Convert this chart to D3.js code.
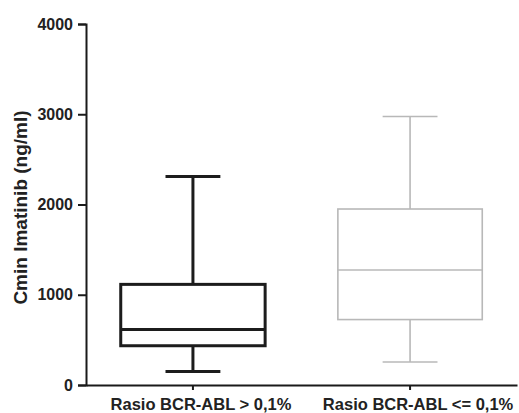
<!DOCTYPE html>
<html>
<head>
<meta charset="utf-8">
<script src="https://cdn.jsdelivr.net/npm/d3@7"></script>
<style>
  body { margin: 0; background: #fff; }
  text { font-family: "Liberation Sans", Arial, sans-serif; font-weight: bold; fill: #222; }
</style>
</head>
<body>
<div id="plot"></div>
<script>
// Box plot values (ng/ml)
const groups = ["Rasio BCR-ABL > 0,1%", "Rasio BCR-ABL <= 0,1%"];
const minVals = [150, 255];
const q1Vals = [435, 725];
const medianVals = [615, 1275];
const q3Vals = [1115, 1950];
const maxVals = [2310, 2975];
const boxColors = ["#1c1c1c", "#b8b8b8"];
const boxWidths = [3, 1.6];
const yTicks = [0, 1000, 2000, 3000, 4000];

const width = 519, height = 413;
const margin = { top: 24, right: 2, bottom: 28, left: 86 };

const svg = d3.select("#plot").append("svg")
  .attr("width", width)
  .attr("height", height)
  .style("background-color", "white");

const y = d3.scaleLinear()
  .domain([0, 4000])
  .range([height - margin.bottom, margin.top]);

const x = d3.scaleBand()
  .domain(groups)
  .range([margin.left, width - margin.right])
  .paddingInner(0.335)
  .paddingOuter(0.16);

// y axis
const yAxis = svg.append("g")
  .attr("transform", `translate(${margin.left},0)`)
  .call(d3.axisLeft(y).tickValues(yTicks).tickSize(8).tickPadding(5).tickFormat(d3.format("d")));
yAxis.select(".domain").attr("stroke", "#1a1a1a").attr("stroke-width", 2);
yAxis.selectAll(".tick line").attr("stroke", "#1a1a1a").attr("stroke-width", 2);
yAxis.selectAll("text").style("font-size", "16px").attr("fill", "#222");

// x axis
const xAxis = svg.append("g")
  .attr("transform", `translate(0,${height - margin.bottom})`)
  .call(d3.axisBottom(x).tickSize(5).tickSizeOuter(0).tickPadding(8));
xAxis.select(".domain").attr("stroke", "#1a1a1a").attr("stroke-width", 2);
xAxis.selectAll(".tick line").attr("stroke", "#1a1a1a").attr("stroke-width", 2);
xAxis.selectAll("text").style("font-size", "16.5px").attr("dx", 8).attr("fill", "#222");

// y label
svg.append("text")
  .attr("transform", `translate(27,${(y(0) + y(4000)) / 2 + 3}) rotate(-90)`)
  .attr("text-anchor", "middle")
  .style("font-size", "19px")
  .text("Cmin Imatinib (ng/ml)");

// boxes
groups.forEach((g, i) => {
  const cx = x(g) + x.bandwidth() / 2;
  const bw = x.bandwidth();
  const capW = bw * 0.38;
  const grp = svg.append("g")
    .attr("stroke", boxColors[i])
    .attr("stroke-width", boxWidths[i])
    .attr("fill", "none");

  // whiskers
  grp.append("line").attr("x1", cx).attr("x2", cx).attr("y1", y(maxVals[i])).attr("y2", y(q3Vals[i]));
  grp.append("line").attr("x1", cx).attr("x2", cx).attr("y1", y(q1Vals[i])).attr("y2", y(minVals[i]));
  grp.append("line").attr("x1", cx - capW / 2).attr("x2", cx + capW / 2).attr("y1", y(maxVals[i])).attr("y2", y(maxVals[i]));
  grp.append("line").attr("x1", cx - capW / 2).attr("x2", cx + capW / 2).attr("y1", y(minVals[i])).attr("y2", y(minVals[i]));

  // box
  grp.append("rect")
    .attr("x", cx - bw / 2)
    .attr("y", y(q3Vals[i]))
    .attr("width", bw)
    .attr("height", y(q1Vals[i]) - y(q3Vals[i]));

  // median
  grp.append("line").attr("x1", cx - bw / 2).attr("x2", cx + bw / 2).attr("y1", y(medianVals[i])).attr("y2", y(medianVals[i]));
});
</script>
</body>
</html>
